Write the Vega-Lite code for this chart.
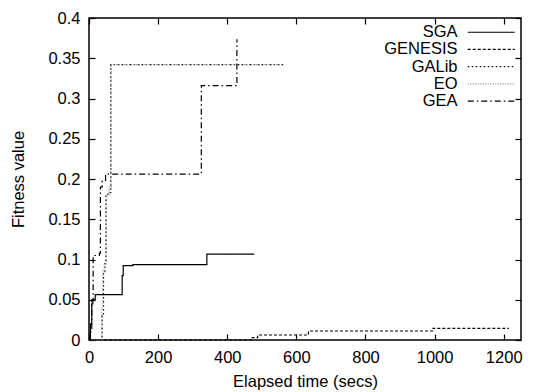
{
  "$schema": "https://vega.github.io/schema/vega-lite/v6.json",
  "width": 432,
  "height": 322,
  "autosize": {"type": "none"},
  "padding": {"left": 89, "top": 18, "right": 18, "bottom": 52},
  "background": "white",
  "config": {
    "font": "Liberation Sans",
    "view": {"stroke": "black", "strokeWidth": 1.5},
    "axis": {
      "grid": false,
      "domain": false,
      "tickColor": "black",
      "tickSize": -6,
      "tickWidth": 1.2,
      "labelColor": "black",
      "labelFontSize": 16.5,
      "titleFontSize": 16.5,
      "titleFontWeight": "normal",
      "titleColor": "black"
    }
  },
  "data": {
    "values": [
      {"s": "SGA", "t": 0, "v": 0},
      {"s": "SGA", "t": 4, "v": 0.02},
      {"s": "SGA", "t": 8, "v": 0.045},
      {"s": "SGA", "t": 11, "v": 0.05},
      {"s": "SGA", "t": 18, "v": 0.0563},
      {"s": "SGA", "t": 94, "v": 0.0563},
      {"s": "SGA", "t": 96, "v": 0.08},
      {"s": "SGA", "t": 99, "v": 0.0923},
      {"s": "SGA", "t": 127, "v": 0.0936},
      {"s": "SGA", "t": 341, "v": 0.1068},
      {"s": "SGA", "t": 478, "v": 0.1068},
      {"s": "GENESIS", "t": 0, "v": 0},
      {"s": "GENESIS", "t": 455, "v": 0},
      {"s": "GENESIS", "t": 470, "v": 0.003},
      {"s": "GENESIS", "t": 488, "v": 0.0062},
      {"s": "GENESIS", "t": 635, "v": 0.0112},
      {"s": "GENESIS", "t": 995, "v": 0.0145},
      {"s": "GENESIS", "t": 1215, "v": 0.0145},
      {"s": "GALib", "t": 0, "v": 0},
      {"s": "GALib", "t": 32, "v": 0},
      {"s": "GALib", "t": 38, "v": 0.03},
      {"s": "GALib", "t": 42, "v": 0.085},
      {"s": "GALib", "t": 46, "v": 0.095},
      {"s": "GALib", "t": 49, "v": 0.18},
      {"s": "GALib", "t": 55, "v": 0.183},
      {"s": "GALib", "t": 63, "v": 0.342},
      {"s": "GALib", "t": 565, "v": 0.342},
      {"s": "EO", "t": 0, "v": 0},
      {"s": "EO", "t": 34, "v": 0},
      {"s": "EO", "t": 37, "v": 0.04},
      {"s": "EO", "t": 40, "v": 0.087},
      {"s": "EO", "t": 44, "v": 0.095},
      {"s": "EO", "t": 50, "v": 0.18},
      {"s": "EO", "t": 58, "v": 0.19},
      {"s": "EO", "t": 64, "v": 0.342},
      {"s": "EO", "t": 560, "v": 0.342},
      {"s": "GEA", "t": 0, "v": 0},
      {"s": "GEA", "t": 4, "v": 0.01},
      {"s": "GEA", "t": 8, "v": 0.05},
      {"s": "GEA", "t": 12, "v": 0.105},
      {"s": "GEA", "t": 30, "v": 0.108},
      {"s": "GEA", "t": 33, "v": 0.19},
      {"s": "GEA", "t": 38, "v": 0.197},
      {"s": "GEA", "t": 48, "v": 0.206},
      {"s": "GEA", "t": 325, "v": 0.316},
      {"s": "GEA", "t": 428, "v": 0.3735}
    ]
  },
  "resolve": {"axis": {"x": "independent", "y": "independent"}},
  "layer": [
    {
      "mark": {"type": "line", "interpolate": "step-after", "strokeWidth": 1.2},
      "encoding": {
        "x": {
          "field": "t", "type": "quantitative",
          "scale": {"domain": [0, 1250], "nice": false, "zero": false},
          "axis": {"title": "Elapsed time (secs)", "values": [0, 200, 400, 600, 800, 1000, 1200], "format": "d", "labelPadding": 15, "titlePadding": 8, "labelFlush": false}
        },
        "y": {
          "field": "v", "type": "quantitative",
          "scale": {"domain": [0, 0.4], "nice": false},
          "axis": {"title": "Fitness value", "values": [0, 0.05, 0.1, 0.15, 0.2, 0.25, 0.3, 0.35, 0.4], "format": "~g", "labelPadding": 15, "titlePadding": 21, "labelFlush": false}
        },
        "color": {
          "field": "s", "type": "nominal",
          "scale": {"domain": ["SGA", "GENESIS", "GALib", "EO", "GEA"], "range": ["black", "black", "black", "#8a8a8a", "black"]},
          "legend": {
            "title": null,
            "orient": "none",
            "legendX": 394,
            "legendY": 6,
            "symbolType": "M-4.7,0H4.7",
            "symbolSize": 100,
            "symbolStrokeWidth": 1.2,
            "symbolFillColor": "transparent",
            "labelFontSize": 16.5,
            "labelColor": "black",
            "labelAlign": "right",
            "labelOffset": -42,
            "rowPadding": 0.2
          }
        },
        "strokeDash": {
          "field": "s", "type": "nominal",
          "scale": {"domain": ["SGA", "GENESIS", "GALib", "EO", "GEA"], "range": [[1, 0], [3, 2], [1.5, 2.5], [1, 1.5], [6, 3, 1.5, 3]]},
          "legend": null
        }
      }
    },
    {
      "mark": {"type": "line", "opacity": 0},
      "encoding": {
        "x": {"field": "t", "type": "quantitative", "axis": {"orient": "top", "labels": false, "title": null, "values": [0, 200, 400, 600, 800, 1000, 1200]}},
        "y": {"field": "v", "type": "quantitative", "axis": {"orient": "right", "labels": false, "title": null, "values": [0, 0.05, 0.1, 0.15, 0.2, 0.25, 0.3, 0.35, 0.4]}}
      }
    }
  ]
}
